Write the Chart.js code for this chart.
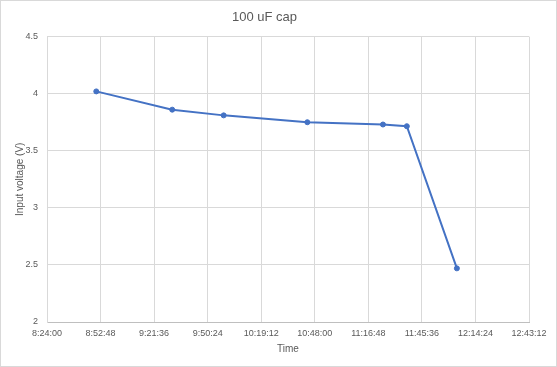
<!DOCTYPE html>
<html>
<head>
<meta charset="utf-8">
<script src="https://cdn.jsdelivr.net/npm/chart.js@4"></script>
<style>
  html, body { margin: 0; padding: 0; background: #fff; }
  #wrap { width: 557px; height: 367px; }
</style>
</head>
<body>
<div id="wrap"><canvas id="chart" width="557" height="367"></canvas></div>
<script>
// readings of the 100 uF cap run
const times = ['8:50:30', '9:31:20', '9:59:00', '10:44:00', '11:24:40', '11:37:30', '12:04:25'];
const voltages = [4.02, 3.86, 3.81, 3.75, 3.73, 3.715, 2.47];

// axis range (time of day) and voltage ticks
const xStart = '8:24:00';
const xEnd = '12:43:12';
const xStep = '0:28:48';
const yTicks = [2, 2.5, 3, 3.5, 4, 4.5];

const toSec = t => {
    const p = t.split(':').map(Number);
    return p[0] * 3600 + p[1] * 60 + p[2];
};
const fmt = s => {
    s = Math.round(s);
    const h = Math.floor(s / 3600);
    const m = Math.floor((s % 3600) / 60);
    const sec = s % 60;
    return h + ':' + String(m).padStart(2, '0') + ':' + String(sec).padStart(2, '0');
};

const points = times.map((t, i) => ({ x: toSec(t), y: voltages[i] }));

// white background + thin outer frame like the Excel chart box
const frame = {
    id: 'frame',
    beforeDraw(chart) {
        const c = chart.ctx;
        c.save();
        c.fillStyle = '#fff';
        c.fillRect(0, 0, chart.width, chart.height);
        c.strokeStyle = '#d9d9d9';
        c.lineWidth = 1;
        c.strokeRect(0.5, 0.5, chart.width - 1, chart.height - 1);
        c.restore();
    }
};

const font = 'Liberation Sans, Arial, sans-serif';
const grey = '#595959';

new Chart(document.getElementById('chart'), {
    type: 'scatter',
    data: {
        datasets: [{
            data: points,
            showLine: true,
            borderColor: '#4472C4',
            backgroundColor: '#4472C4',
            borderWidth: 2,
            pointRadius: 2.5,
            pointBorderWidth: 1,
            tension: 0
        }]
    },
    options: {
        responsive: false,
        animation: false,
        layout: { padding: { left: 0, right: 28, top: 0, bottom: 0 } },
        plugins: {
            legend: { display: false },
            tooltip: { enabled: false },
            title: {
                display: true,
                text: '100 uF cap',
                color: grey,
                font: { family: font, size: 13, weight: 'normal', lineHeight: 1.2 },
                padding: { top: 10, bottom: 11 }
            }
        },
        scales: {
            x: {
                type: 'linear',
                min: toSec(xStart),
                max: toSec(xEnd),
                afterFit: s => { s.height = 45; },
                ticks: {
                    stepSize: toSec(xStep),
                    color: grey,
                    padding: 6,
                    maxRotation: 0,
                    autoSkip: false,
                    font: { family: font, size: 9 },
                    callback: v => fmt(v)
                },
                grid: { color: '#d9d9d9', drawTicks: false },
                border: { color: '#bfbfbf' },
                title: {
                    display: true,
                    text: 'Time',
                    color: grey,
                    font: { family: font, size: 10 },
                    padding: { top: 0, bottom: 12 }
                }
            },
            y: {
                min: yTicks[0],
                max: yTicks[yTicks.length - 1],
                afterFit: s => { s.width = 47; },
                afterBuildTicks: s => { s.ticks = yTicks.map(v => ({ value: v })); },
                ticks: {
                    color: grey,
                    padding: 9,
                    font: { family: font, size: 9 },
                    callback: v => String(v)
                },
                grid: { color: '#d9d9d9', drawTicks: false },
                border: { color: '#d9d9d9' },
                title: {
                    display: true,
                    text: 'Input voltage (V)',
                    color: grey,
                    font: { family: font, size: 10 },
                    padding: { top: 14, bottom: 0 }
                }
            }
        }
    },
    plugins: [frame]
});
</script>
</body>
</html>
